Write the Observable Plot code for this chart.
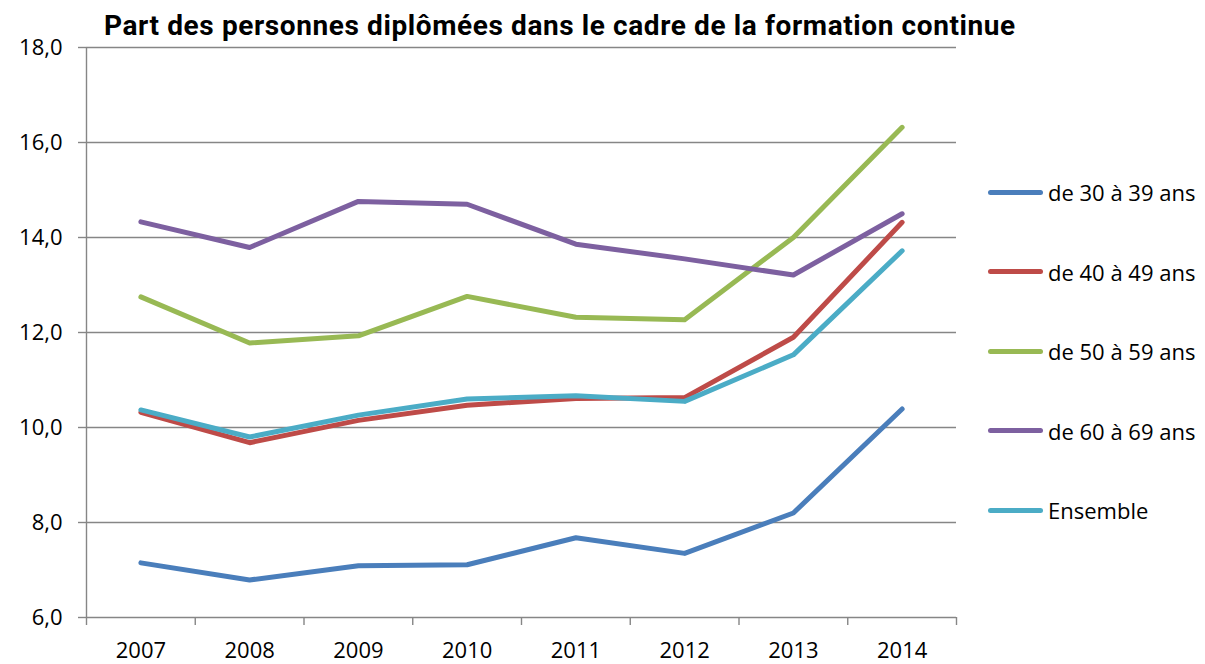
<!DOCTYPE html>
<html><head><meta charset="utf-8">
<script src="https://cdn.jsdelivr.net/npm/d3@7"></script>
<script src="https://cdn.jsdelivr.net/npm/@observablehq/plot@0.6"></script>
<style>
body{margin:0;background:#fff;}
#wrap{position:relative;width:1205px;height:664px;overflow:hidden;background:#fff;}
#title{position:absolute;z-index:2;left:104px;top:9px;font-family:Roboto,sans-serif;font-weight:700;font-size:28px;letter-spacing:0.6px;color:#000;white-space:nowrap;line-height:normal;}
#chart{position:absolute;z-index:1;left:0;top:30px;}
.item{position:absolute;left:988px;height:30px;display:flex;align-items:center;font-family:"Open Sans",sans-serif;font-size:22px;color:#000;white-space:nowrap;}
.sw{width:55px;height:5px;border-radius:3px;margin-right:5px;}
</style>
</head><body>
<div id="wrap">
  <div id="title">Part des personnes diplômées dans le cadre de la formation continue</div>
  <div id="chart"></div>
  <div id="legend"></div>
</div>
<script>
const years = [2007, 2008, 2009, 2010, 2011, 2012, 2013, 2014];
const seriesNames = ["de 30 à 39 ans", "de 40 à 49 ans", "de 50 à 59 ans", "de 60 à 69 ans", "Ensemble"];
const seriesColors = ["#4a7ebb", "#be4b48", "#98b954", "#7d60a0", "#4bacc6"];
const s30 = [7.15, 6.79, 7.09, 7.11, 7.68, 7.35, 8.20, 10.39];
const s40 = [10.32, 9.68, 10.15, 10.47, 10.61, 10.63, 11.90, 14.32];
const s50 = [12.75, 11.78, 11.93, 12.76, 12.32, 12.27, 14.00, 16.32];
const s60 = [14.33, 13.79, 14.76, 14.70, 13.86, 13.55, 13.21, 14.50];
const ens = [10.37, 9.80, 10.26, 10.60, 10.67, 10.55, 11.53, 13.72];
const yTicks = [6, 8, 10, 12, 14, 16, 18];

const allSeries = [s30, s40, s50, s60, ens];
const data = allSeries.flatMap((vals, i) => vals.map((v, j) => ({year: years[j], value: v, serie: seriesNames[i]})));
const bounds = d3.range(years[0] - 0.5, years[years.length - 1] + 1, 1);

const fmt = d => d.toFixed(1).replace(".", ",");

const chart = Plot.plot({
  width: 1205,
  height: 634,
  marginLeft: 86,
  marginRight: 249,
  marginTop: 17,
  marginBottom: 47,
  style: {fontFamily: "'Open Sans', sans-serif", fontSize: "22px", color: "#000", background: "transparent"},
  x: {domain: [bounds[0], bounds[bounds.length - 1]]},
  y: {domain: [yTicks[0], yTicks[yTicks.length - 1]]},
  color: {domain: seriesNames, range: seriesColors},
  marks: [
    Plot.gridY(yTicks, {stroke: "#868686", strokeOpacity: 1, strokeWidth: 1.4}),
    Plot.axisY(yTicks, {tickSize: 8, tickPadding: 16, tickFormat: fmt, stroke: "#868686", strokeWidth: 1.4, label: null, fontSize: 22, fill: "#000"}),
    Plot.ruleX([bounds[0]], {stroke: "#868686", strokeWidth: 1.4}),
    Plot.axisX(bounds, {tickSize: 8, tickFormat: () => "", stroke: "#868686", strokeWidth: 1.4, label: null}),
    Plot.axisX(years, {tickSize: 0, tickPadding: 25, tickFormat: d => String(d), label: null, fontSize: 22, fill: "#000"}),
    Plot.line(data, {x: "year", y: "value", z: "serie", stroke: "serie", strokeWidth: 5, strokeLinecap: "round", strokeLinejoin: "round"})
  ]
});
document.getElementById("chart").appendChild(chart);

const legend = document.getElementById("legend");
seriesNames.forEach((name, i) => {
  const it = document.createElement("div");
  it.className = "item";
  it.style.top = (177 + i * 79.5) + "px";
  const sw = document.createElement("div");
  sw.className = "sw";
  sw.style.background = seriesColors[i];
  const tx = document.createElement("span");
  tx.textContent = name;
  it.appendChild(sw);
  it.appendChild(tx);
  legend.appendChild(it);
});
</script>
</body></html>
